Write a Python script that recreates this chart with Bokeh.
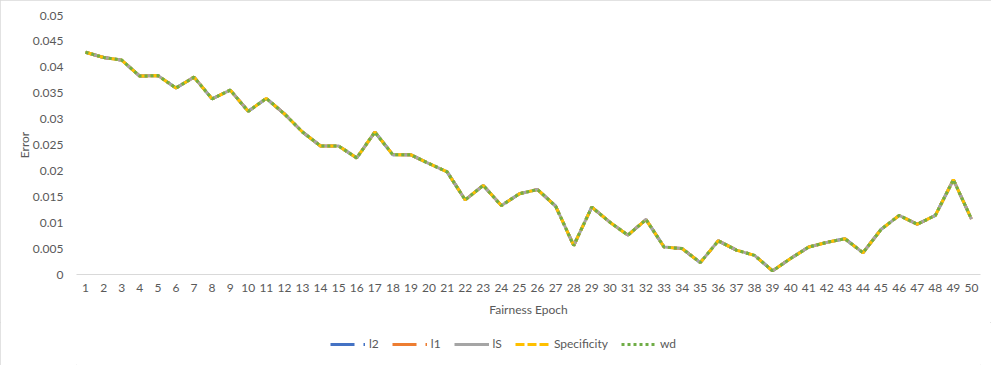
from bokeh.plotting import figure
from bokeh.models import Range1d, FixedTicker, Legend, LegendItem
from bokeh.layouts import column
from bokeh.embed import file_html
from bokeh.resources import INLINE

epochs = list(range(1, 51))
error = [0.0429, 0.0419, 0.0414, 0.0383, 0.0384, 0.0360, 0.0381, 0.0339, 0.0356, 0.0315,
         0.0340, 0.0310, 0.0275, 0.0248, 0.0248, 0.0225, 0.0275, 0.0231, 0.0231, 0.0214,
         0.0198, 0.0144, 0.0172, 0.0133, 0.0156, 0.0164, 0.0132, 0.0056, 0.0130, 0.0101,
         0.0076, 0.0106, 0.0053, 0.0050, 0.0023, 0.0065, 0.0047, 0.0037, 0.0007, 0.0031,
         0.0053, 0.0062, 0.0069, 0.0042, 0.0087, 0.0114, 0.0097, 0.0114, 0.0183, 0.0107]
l2 = error
l1 = error
lS = error
specificity = error
wd = error

series_names = ["l2", "l1", "lS", "Specificity", "wd"]
series_values = [l2, l1, lS, specificity, wd]
series_colors = ["#4472C4", "#ED7D31", "#A5A5A5", "#FFC000", "#70AD47"]
series_dash = ["24 9 3 9", "24 9 3 9 3 9", "solid", "9 3", "3 3"]

y_ticks = [0, 0.005, 0.01, 0.015, 0.02, 0.025, 0.03, 0.035, 0.04, 0.045, 0.05]
y_tick_labels = ["0", "0.005", "0.01", "0.015", "0.02", "0.025", "0.03", "0.035", "0.04", "0.045", "0.05"]

FONT = "Lato"
TXT = "#595959"

p = figure(frame_width=904, frame_height=259, output_backend="svg", toolbar_location=None,
           x_range=Range1d(0.5, 50.5), y_range=Range1d(0, 0.05),
           min_border_left=76, min_border_right=11, min_border_top=15, min_border_bottom=48)
p.outline_line_color = None
p.grid.visible = False

for name, vals, col, dash in zip(series_names, series_values, series_colors, series_dash):
    p.line(epochs, vals, line_color=col, line_width=3, line_dash=dash)

xa = p.xaxis[0]
xa.ticker = FixedTicker(ticks=epochs)
xa.axis_label = "Fairness Epoch"
xa.axis_line_color = "#D9D9D9"
xa.major_tick_line_color = None
xa.minor_tick_line_color = None
xa.major_tick_out = 0
xa.major_tick_in = 0
xa.minor_tick_out = 0
xa.major_label_standoff = 9
xa.axis_label_standoff = 7
xa.major_label_text_font = FONT
xa.major_label_text_font_size = "12px"
xa.major_label_text_color = TXT
xa.axis_label_text_font = FONT
xa.axis_label_text_font_size = "12px"
xa.axis_label_text_font_style = "normal"
xa.axis_label_text_color = TXT

ya = p.yaxis[0]
ya.ticker = FixedTicker(ticks=y_ticks)
ya.major_label_overrides = {t: s for t, s in zip(y_ticks, y_tick_labels)}
ya.axis_label = "Error"
ya.axis_line_color = None
ya.major_tick_line_color = None
ya.minor_tick_line_color = None
ya.major_tick_out = 0
ya.major_tick_in = 0
ya.minor_tick_out = 0
ya.major_label_standoff = 13
ya.axis_label_standoff = -2
ya.major_label_text_font = FONT
ya.major_label_text_font_size = "12px"
ya.major_label_text_color = TXT
ya.axis_label_text_font = FONT
ya.axis_label_text_font_size = "12px"
ya.axis_label_text_font_style = "normal"
ya.axis_label_text_color = TXT

# legend strip below the chart: keys use the same series, kept out of its view
pl = figure(width=904 + 76 + 11, height=43, output_backend="svg", toolbar_location=None,
            x_axis_type=None, y_axis_type=None, min_border=0,
            x_range=Range1d(-100, -99), y_range=Range1d(0, 1))
pl.outline_line_color = None
keys = []
for name, vals, col, dash in zip(series_names, series_values, series_colors, series_dash):
    r = pl.line(epochs, vals, line_color=col, line_width=3, line_dash=dash)
    keys.append(LegendItem(label=name, renderers=[r]))

legend = Legend(items=keys, orientation="horizontal", location=(254, 14),
                glyph_width=35, glyph_height=14, label_standoff=4, spacing=13, label_width=0,
                label_height=14, padding=0, margin=0, border_line_color=None,
                background_fill_alpha=0,
                label_text_font=FONT, label_text_font_size="12px", label_text_color=TXT)
pl.add_layout(legend, "center")

layout = column(p, pl, spacing=0)
layout.styles = {"outline": "1px solid #D9D9D9", "outline-offset": "-1px"}

open("out.html", "w").write(file_html(layout, INLINE))
